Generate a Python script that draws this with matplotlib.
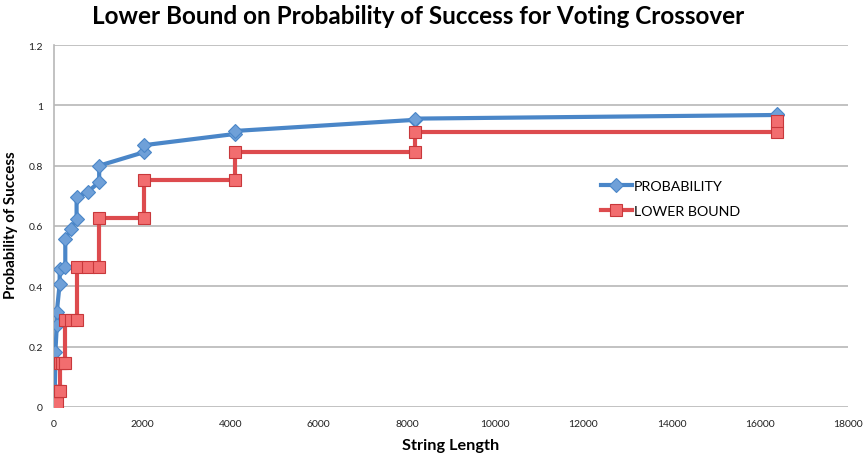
import matplotlib
matplotlib.use("Agg")
import matplotlib.pyplot as plt
from matplotlib.ticker import FuncFormatter

plt.rcParams['font.family'] = ['Lato', 'DejaVu Sans']

# ---- data ----
prob_x = [4, 8, 16, 32, 32, 64, 64, 128, 128, 256, 256, 384, 512, 512, 768,
          1024, 1024, 2048, 2048, 4096, 4096, 8192, 8192, 16384, 16384]
prob_y = [0.01, 0.03, 0.056, 0.148, 0.183, 0.272, 0.315, 0.408, 0.459, 0.464,
          0.557, 0.59, 0.623, 0.696, 0.713, 0.746, 0.80, 0.845, 0.868, 0.905,
          0.915, 0.952, 0.956, 0.968, 0.972]

lb_x = [16, 32, 64, 64, 96, 128, 128, 192, 256, 256, 384, 512, 512, 768,
        1024, 1024, 2048, 2048, 4096, 4096, 8192, 8192, 16384, 16384]
lb_y = [0.013, 0.013, 0.013, 0.053, 0.053, 0.053, 0.146, 0.146, 0.146, 0.29,
        0.29, 0.29, 0.464, 0.464, 0.464, 0.626, 0.626, 0.752, 0.752, 0.845,
        0.845, 0.911, 0.911, 0.948]

x_ticks = [0, 2000, 4000, 6000, 8000, 10000, 12000, 14000, 16000, 18000]
y_ticks = [0, 0.2, 0.4, 0.6, 0.8, 1.0, 1.2]

title = "Lower Bound on Probability of Success for Voting Crossover"
x_label = "String Length"
y_label = "Probability of Success"
series_names = ["PROBABILITY", "LOWER BOUND"]

blue = "#4A86C8"
blue_fill = "#6FA0D8"
red = "#DD4B4E"
red_fill = "#F26D6F"

fig = plt.figure(figsize=(8.67, 4.60), dpi=100)
ax = fig.add_axes([54/867, 1-408/460, (848-54)/867, (408-46)/460])

ax.plot(prob_x, prob_y, color=blue, lw=3.0, marker='D', ms=7,
        mfc=blue_fill, mec=blue, mew=0.8, label=series_names[0], zorder=3)
ax.plot(lb_x, lb_y, color=red, lw=3.0, marker='s', ms=8.5,
        mfc=red_fill, mec="#C8383B", mew=0.8, label=series_names[1], zorder=4)

ax.set_xlim(0, 18000)
ax.set_ylim(0, 1.2)
ax.set_xticks(x_ticks)
ax.set_yticks(y_ticks)
ax.yaxis.set_major_formatter(FuncFormatter(lambda v, p: f"{v:g}"))
ax.tick_params(axis='both', length=0, labelsize=7.5, colors='#222222')
ax.tick_params(axis='x', pad=9)
ax.tick_params(axis='y', pad=8)

ax.grid(axis='y', color='#B8B8B8', lw=1.2)
ax.set_axisbelow(True)
for s in ['top', 'right', 'bottom']:
    ax.spines[s].set_visible(False)
ax.spines['left'].set_color('#B8B8B8')
ax.spines['left'].set_linewidth(1.2)

fig.text(451/867, 1-446/460, x_label, fontsize=11.7, fontweight='bold',
         ha='center', va='center')
fig.text(11/867, 1-225/460, y_label, fontsize=10.9, fontweight='bold',
         ha='center', va='center', rotation=90)

fig.text(418/867, 1-16/460, title, fontsize=17.5, fontweight='bold',
         ha='center', va='center')

leg = ax.legend(loc='upper left', bbox_to_anchor=((595-54)/794, 1-(175-46)/362),
                frameon=False, fontsize=10.3, handlelength=2.2, handletextpad=0.1,
                labelspacing=0.9, borderaxespad=0)

fig.savefig("out.png", dpi=100)
